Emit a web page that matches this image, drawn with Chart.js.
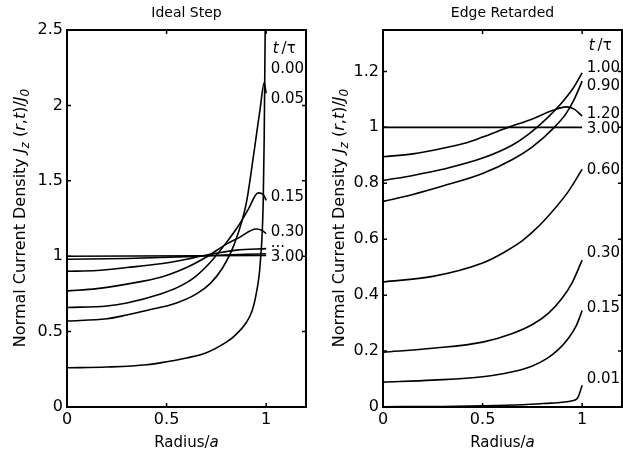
<!DOCTYPE html>
<html><head><meta charset="utf-8">
<script src="https://cdn.jsdelivr.net/npm/chart.js@4"></script>
<style>
html,body{margin:0;padding:0;background:#fff;width:623px;height:457px;overflow:hidden}
.w{position:absolute;top:0;height:457px}
canvas{display:block}
</style></head><body>
<div class="w" style="left:0;width:312px"><canvas id="c1" width="312" height="457"></canvas></div>
<div class="w" style="left:312px;width:311px"><canvas id="c2" width="311" height="457"></canvas></div>
<script>
// ---------- data ----------
const xTicks = [0, 0.5, 1];
const idealYTicks = [0, 0.5, 1, 1.5, 2, 2.5];
const edgeYTicks = [0, 0.2, 0.4, 0.6, 0.8, 1, 1.2];

// Ideal Step  (x = r/a, y = Jz/J0)
const ideal_t000 = [[0,0.26],[0.2,0.265],[0.4,0.28],[0.5,0.30],[0.6,0.325],[0.7,0.36],[0.8,0.43],[0.84,0.47],[0.9,0.56],[0.93,0.64],[0.95,0.75],[0.97,0.95],[0.985,1.35],[0.99,1.77],[0.995,2.5]];
const ideal_t005 = [[0,0.57],[0.2,0.585],[0.3,0.61],[0.4,0.64],[0.55,0.69],[0.65,0.75],[0.72,0.82],[0.78,0.92],[0.84,1.08],[0.9,1.35],[0.94,1.7],[0.97,1.98],[0.99,2.15],[1.0,2.08]];
const ideal_t015 = [[0,0.66],[0.2,0.67],[0.3,0.69],[0.47,0.75],[0.55,0.79],[0.64,0.86],[0.72,0.96],[0.8,1.09],[0.86,1.2],[0.91,1.31],[0.96,1.42],[0.985,1.41],[1.0,1.37]];
const ideal_t030 = [[0,0.77],[0.15,0.785],[0.3,0.815],[0.47,0.86],[0.6,0.925],[0.7,0.995],[0.8,1.08],[0.86,1.12],[0.95,1.18],[0.98,1.17],[1.0,1.15]];
const ideal_tmidA = [[0,0.90],[0.15,0.905],[0.3,0.925],[0.47,0.95],[0.6,0.98],[0.67,1.0],[0.75,1.02],[0.85,1.04],[1.0,1.05]];
const ideal_tmidB = [[0,0.98],[0.3,0.985],[0.6,0.997],[0.75,1.006],[0.9,1.013],[1.0,1.016]];
const ideal_t300 = [[0,1.0],[1.0,1.005]];

// Edge Retarded
const edge_t001 = [[0,0.001],[0.3,0.002],[0.5,0.004],[0.7,0.008],[0.82,0.013],[0.9,0.017],[0.95,0.022],[0.975,0.03],[0.985,0.045],[1.0,0.078]];
const edge_t015 = [[0,0.089],[0.25,0.096],[0.5,0.108],[0.65,0.126],[0.75,0.147],[0.82,0.172],[0.88,0.205],[0.93,0.245],[0.97,0.29],[1.0,0.345]];
const edge_t030 = [[0,0.196],[0.25,0.21],[0.5,0.232],[0.65,0.263],[0.75,0.295],[0.83,0.335],[0.9,0.39],[0.95,0.445],[1.0,0.525]];
const edge_t060 = [[0,0.447],[0.25,0.467],[0.5,0.515],[0.6,0.55],[0.7,0.595],[0.75,0.625],[0.82,0.675],[0.93,0.77],[1.0,0.85]];
const edge_t090 = [[0,0.735],[0.15,0.76],[0.3,0.79],[0.5,0.835],[0.65,0.885],[0.75,0.93],[0.86,1.0],[0.92,1.05],[0.96,1.1],[1.0,1.165]];
const edge_t100 = [[0,0.81],[0.15,0.828],[0.3,0.85],[0.5,0.89],[0.65,0.937],[0.73,0.975],[0.82,1.03],[0.9,1.09],[0.95,1.135],[1.0,1.195]];
const edge_t120 = [[0,0.895],[0.15,0.905],[0.3,0.925],[0.42,0.945],[0.5,0.965],[0.63,1.0],[0.75,1.03],[0.85,1.06],[0.92,1.073],[0.96,1.065],[1.0,1.04]];
const edge_t300 = [[0,1.0],[1.0,1.0]];

// curve label texts
const idealLabels = ['0.00','0.05','0.15','0.30','...','3.00'];
const edgeLabels = ['1.00','0.90','1.20','3.00','0.60','0.30','0.15','0.01'];

// ---------- drawing ----------
const FONT = '"DejaVu Sans", Verdana, sans-serif';
const fmt = v => String(Math.round(v * 100) / 100);
const toPts = a => a.map(p => ({x: p[0], y: p[1]}));

function setFont(ctx, p, size) {
  ctx.font = (p.i ? 'italic ' : '') + (p.sub ? Math.round(size * 0.72) : size) + 'px ' + FONT;
}
function drawRich(ctx, parts, x, y, size, align) {
  let w = 0;
  for (const p of parts) { setFont(ctx, p, size); w += ctx.measureText(p.t).width; }
  let cx = align === 'center' ? x - w / 2 : x;
  ctx.textAlign = 'left';
  ctx.textBaseline = 'alphabetic';
  for (const p of parts) {
    setFont(ctx, p, size);
    ctx.fillText(p.t, cx, y + (p.sub ? size * 0.28 : 0));
    cx += ctx.measureText(p.t).width;
  }
}

const yTitle = [{t:'Normal Current Density '},{t:'J',i:1},{t:'z',i:1,sub:1},{t:' ('},{t:'r',i:1},{t:','},{t:'t',i:1},{t:')/'},{t:'J',i:1},{t:'0',i:1,sub:1}];
const xTitle = [{t:'Radius/'},{t:'a',i:1}];
const tauHead = [{t:'t',i:1},{t:'\u2009/'},{t:'\u03c4'}];

const decor = {
  id: 'decor',
  afterDraw(chart, args, o) {
    const ctx = chart.ctx, a = chart.chartArea;
    const xs = chart.scales.x, ys = chart.scales.y;
    ctx.save();
    ctx.fillStyle = '#000'; ctx.strokeStyle = '#000';
    ctx.lineWidth = 1.5;
    ctx.beginPath();
    for (const v of o.xt) {
      const px = xs.getPixelForValue(v);
      ctx.moveTo(px, a.bottom); ctx.lineTo(px, a.bottom - 4);
      ctx.moveTo(px, a.top); ctx.lineTo(px, a.top + 4);
    }
    for (const v of o.yt) {
      const py = ys.getPixelForValue(v);
      ctx.moveTo(a.left, py); ctx.lineTo(a.left + 4, py);
      ctx.moveTo(a.right, py); ctx.lineTo(a.right - 4, py);
    }
    ctx.stroke();
    ctx.lineWidth = 2;
    ctx.strokeRect(a.left, a.top, a.right - a.left, a.bottom - a.top);
    ctx.font = '14px ' + FONT; ctx.textAlign = 'center'; ctx.textBaseline = 'alphabetic';
    ctx.fillText(o.title, (a.left + a.right) / 2, 17);
    drawRich(ctx, xTitle, (a.left + a.right) / 2, 446.5, 15, 'center');
    ctx.save();
    ctx.translate(o.yTitleX, o.yTitleY);
    ctx.rotate(-Math.PI / 2);
    drawRich(ctx, yTitle, 0, 0, 16, 'center');
    ctx.restore();
    const lx = xs.getPixelForValue(1.023);
    drawRich(ctx, tauHead, lx + 2, ys.getPixelForValue(o.tauY) + 5, 15, 'left');
    ctx.font = '15px ' + FONT; ctx.textAlign = 'left'; ctx.textBaseline = 'middle';
    o.labels.forEach((t, i) => ctx.fillText(t, lx, ys.getPixelForValue(o.labelY[i])));
    ctx.restore();
  }
};

function makeChart(id, sets, yMax, yTicks, yWidth, padRight, deco) {
  return new Chart(document.getElementById(id), {
    type: 'line',
    data: { datasets: sets.map(s => ({
      data: toPts(s), borderColor: '#000', borderWidth: 1.6, pointRadius: 0,
      fill: false, cubicInterpolationMode: 'monotone' })) },
    options: {
      responsive: false, animation: false, maintainAspectRatio: false,
      layout: { padding: { left: 0, right: padRight, top: 30, bottom: 0 } },
      plugins: { legend: { display: false }, tooltip: { enabled: false }, decor: deco },
      scales: {
        x: { type: 'linear', min: 0, max: 1.2,
          afterBuildTicks: s => { s.ticks = xTicks.map(v => ({value: v})); },
          afterFit: s => { s.height = 50; },
          grid: { display: false, drawTicks: false }, border: { display: false },
          ticks: { color: '#000', font: { family: FONT, size: 16 }, padding: 3,
            maxRotation: 0, autoSkip: false, callback: v => fmt(v) } },
        y: { type: 'linear', min: 0, max: yMax,
          afterBuildTicks: s => { s.ticks = yTicks.map(v => ({value: v})); },
          afterFit: s => { s.width = yWidth; },
          grid: { display: false, drawTicks: false }, border: { display: false },
          ticks: { color: '#000', font: { family: FONT, size: 16 }, padding: 4,
            autoSkip: false, callback: v => fmt(v) } }
      }
    },
    plugins: [decor]
  });
}

makeChart('c1',
  [ideal_t000, ideal_t005, ideal_t015, ideal_t030, ideal_tmidA, ideal_tmidB, ideal_t300],
  2.5, idealYTicks, 67, 6,
  { title: 'Ideal Step', xt: xTicks, yt: idealYTicks, yTitleX: 25, yTitleY: 218,
    labels: idealLabels, labelY: [2.243, 2.044, 1.39, 1.158, 1.09, 0.997], tauY: 2.38 });

makeChart('c2',
  [edge_t001, edge_t015, edge_t030, edge_t060, edge_t090, edge_t100, edge_t120, edge_t300],
  1.348, edgeYTicks, 71, 1,
  { title: 'Edge Retarded', xt: xTicks, yt: edgeYTicks, yTitleX: 32, yTitleY: 218,
    labels: edgeLabels, labelY: [1.211, 1.148, 1.048, 0.994, 0.848, 0.55, 0.353, 0.0985], tauY: 1.295 });
</script>
</body></html>
